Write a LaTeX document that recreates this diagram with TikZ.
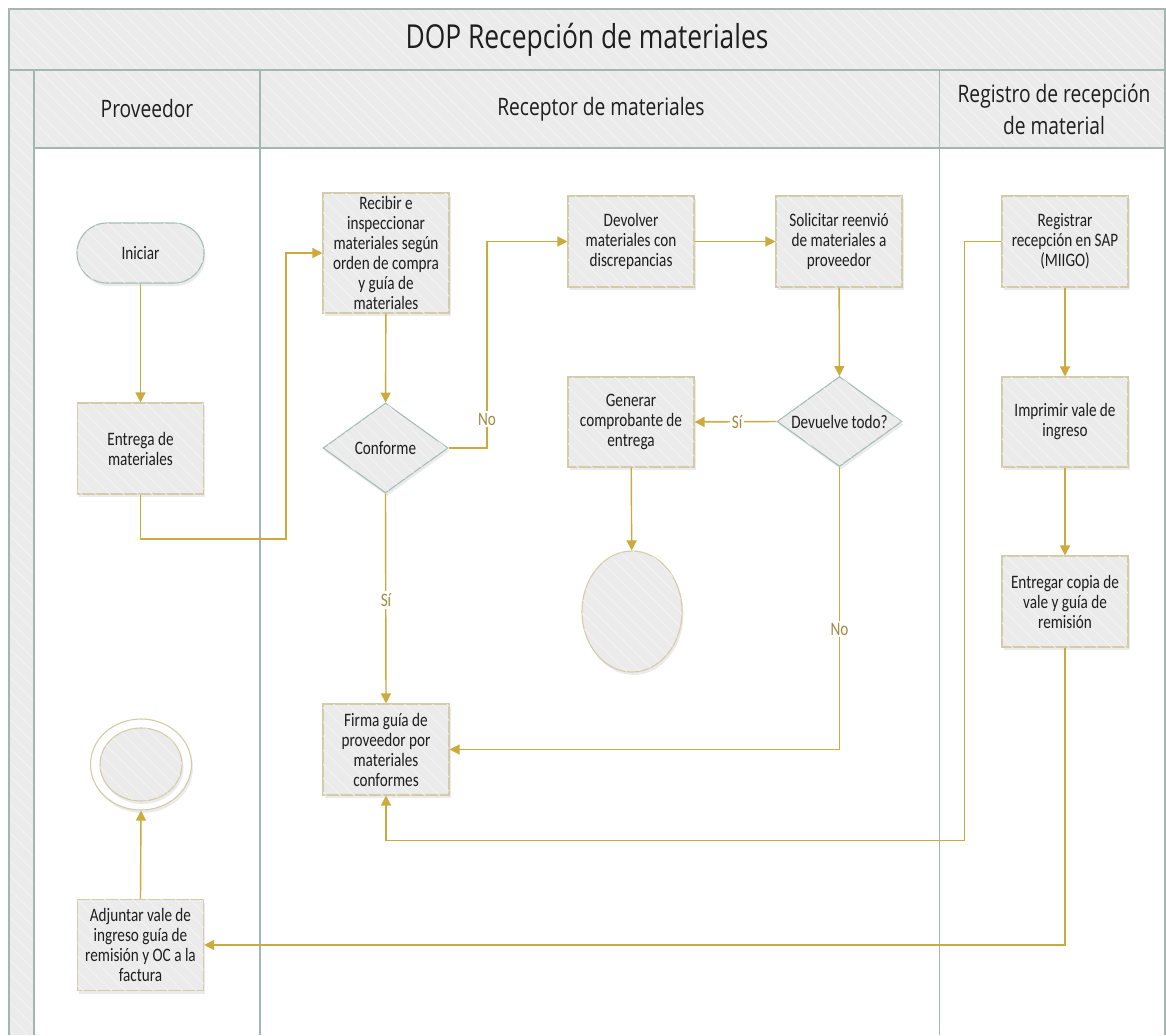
\documentclass[tikz,border=0pt]{standalone}
\usepackage{fontspec}
\setmainfont{Carlito}[FakeStretch=0.8]
\newfontfamily\headfont{Open Sans}[FakeStretch=0.8]
\usetikzlibrary{shapes.geometric,shadows,arrows.meta,patterns.meta}

\definecolor{frameline}{HTML}{A3B6AF}
\definecolor{bandfill}{HTML}{EBEBEB}
\definecolor{boxfill}{HTML}{EBEBEB}
\definecolor{boxline}{HTML}{D4CCA9}
\definecolor{decline}{HTML}{A9BCB5}
\definecolor{flow}{HTML}{CCAA3C}
\definecolor{flowtext}{HTML}{A08A40}
\definecolor{inktext}{HTML}{1E1E1E}

\tikzset{
  hatch/.style={postaction={pattern={Lines[angle=-45,distance=10pt,line width=0.7pt]},pattern color=white!45!bandfill}},
  softshadow/.style={drop shadow={opacity=0.16,shadow xshift=1.5pt,shadow yshift=-3pt}},
  nodetext/.style={font=\fontsize{19}{20}\selectfont,text=inktext,align=center},
  proc/.style={rectangle,draw=boxline,fill=boxfill,line width=1.1pt,minimum width=126pt,minimum height=91pt,inner sep=2pt,nodetext,softshadow,hatch},
  decision/.style={diamond,draw=decline,fill=boxfill,line width=1.1pt,minimum width=125pt,minimum height=90pt,inner sep=0pt,aspect=1.4,nodetext,softshadow,hatch},
  terminal/.style={rectangle,rounded corners=30pt,draw=decline,fill=boxfill,line width=1.1pt,minimum width=127pt,minimum height=60pt,nodetext,softshadow,hatch},
  endpoint/.style={ellipse,draw=boxline,fill=boxfill,line width=1.1pt,inner sep=0pt,softshadow,hatch},
  flowline/.style={draw=flow,line width=1.4pt,-{Triangle[width=10pt,length=10pt]}},
  flowlabel/.style={fill=white,text=flowtext,font=\fontsize{19}{20}\selectfont,inner sep=2pt},
  band/.style={fill=bandfill,hatch},
  frame/.style={draw=frameline,line width=1.5pt},
  headtext/.style={font=\headfont\fontsize{24}{32}\selectfont,text=inktext,align=center}
}

\begin{document}
\begin{tikzpicture}[x=1pt,y=-1pt]
\useasboundingbox (0,0) rectangle (1166,1035);

% swimlane frame: title band, lane headers and the left strip
\path[band] (9,9) rectangle (1166,70);
\path[band] (34,70) rectangle (1166,148);
\path[band] (9,70) rectangle (34,1035);
\draw[frame] (9,1035) -- (9,9) -- (1165,9) -- (1165,1035);
\draw[frame] (9,70) -- (1165,70);
\draw[frame] (34,148) -- (1165,148);
\draw[frame] (34,70) -- (34,1035);
\draw[frame] (260,70) -- (260,1035);
\draw[frame] (939.5,70) -- (939.5,1035);

\node[headtext,font=\headfont\fontsize{33}{36}\selectfont] (title) at (587,40) {DOP Recepción de materiales};
\node[headtext] (laneA) at (147,109) {Proveedor};
\node[headtext] (laneB) at (601,109) {Receptor de materiales};
\node[headtext] (laneC) at (1054,109) {Registro de recepción\\de material};

% Proveedor lane
\node[terminal] (ini) at (140.5,253) {Iniciar};
\node[proc] (ent) at (140.5,448.5) {Entrega de\\materiales};
\node[endpoint,draw=none,fill=none,minimum width=101pt,minimum height=91pt] (fin) at (141,764.5) {};
\draw[boxline,line width=1.1pt,fill=white] (fin.center) ellipse [x radius=50.5pt,y radius=45.5pt];
\node[endpoint,minimum width=82pt,minimum height=73pt] (finin) at (141,764.5) {};
\node[proc] (adj) at (140.5,945) {Adjuntar vale de\\ingreso guía de\\remisión y OC a la\\factura};

% Receptor de materiales lane
\node[proc,minimum height=120pt] (rec) at (386,253) {Recibir e\\inspeccionar\\materiales según\\orden de compra\\y guía de\\materiales};
\node[decision] (conf) at (385.5,448) {Conforme};
\node[proc] (dev) at (631,241.5) {Devolver\\materiales con\\discrepancias};
\node[proc] (sol) at (839,241.5) {Solicitar reenvió\\de materiales a\\proveedor};
\node[proc,minimum height=90pt] (gen) at (631,422) {Generar\\comprobante de\\entrega};
\node[decision] (dt) at (839.5,421.5) {Devuelve todo?};
\node[endpoint,minimum width=100pt,minimum height=121pt] (cierre) at (632,611.5) {};
\node[proc] (fir) at (386,749.5) {Firma guía de\\proveedor por\\materiales\\conformes};

% Registro de recepción lane
\node[proc] (reg) at (1065,241.5) {Registrar\\recepción en SAP\\(MIIGO)};
\node[proc,minimum height=90pt] (imp) at (1065,422) {Imprimir vale de\\ingreso};
\node[proc] (entr) at (1065,601.5) {Entregar copia de\\vale y guía de\\remisión};

% bend points of the routed connectors
\coordinate (bendA) at (286,539);
\coordinate (bendB) at (487,448);
\coordinate (bendC) at (964.5,840.5);

% connectors
\draw[flowline] (ini) -- (ent);
\draw[flowline] (ent.south) |- (bendA) |- (rec.west);
\draw[flowline] (rec) -- (conf);
\draw[flowline] (conf.east) -- (bendB) |- (dev.west);
\draw[flowline] (dev) -- (sol);
\draw[flowline] (sol) -- (dt);
\draw[flowline] (dt.west) -- (gen.east);
\draw[flowline] (gen) -- (cierre);
\draw[flowline] (dt.south) |- (fir.east);
\draw[flowline] (conf.south) -- (fir.north);
\draw[flowline] (reg.west) -| (bendC) -| (fir.south);
\draw[flowline] (reg) -- (imp);
\draw[flowline] (imp) -- (entr);
\draw[flowline] (entr.south) |- (adj.east);
\draw[flowline] (adj.north) -- (fin.south);

% branch labels
\node[flowlabel] (lblNo1) at (487,419) {No};
\node[flowlabel] (lblSi1) at (737,422) {Sí};
\node[flowlabel] (lblSi2) at (386,600) {Sí};
\node[flowlabel] (lblNo2) at (839.5,629) {No};
\end{tikzpicture}
\end{document}
